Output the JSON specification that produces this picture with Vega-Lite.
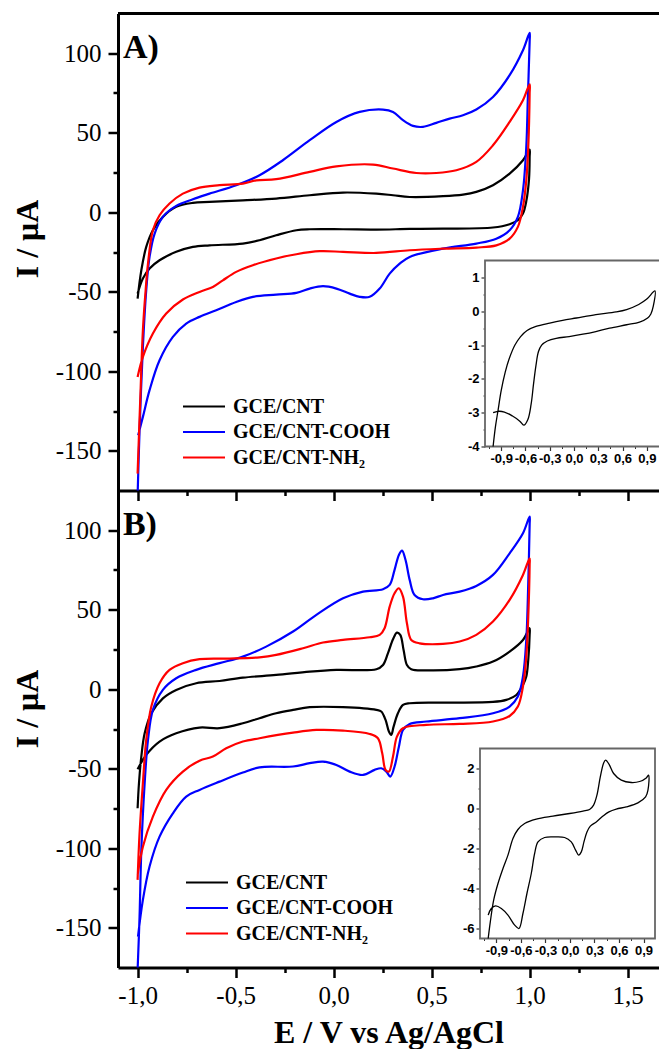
{
"$schema": "https://vega.github.io/schema/vega-lite/v6.json",
"padding": {"left": 11, "top": 11.5, "right": 0, "bottom": 0},
"autosize": {"type": "pad"},
"spacing": 0,
"bounds": "flush",
"config": {
 "view": {"stroke": null},
 "axis": {"grid": false, "domainColor": "black", "tickColor": "black", "labelColor": "black", "titleColor": "black"}
},
"datasets": {
"A": [
{"s":"GCE/CNT","E":-1.0,"I":-54.3,"o":0},{"s":"GCE/CNT","E":-0.981,"I":-36.5,"o":1},{"s":"GCE/CNT","E":-0.956,"I":-21.8,"o":2},{"s":"GCE/CNT","E":-0.922,"I":-11.3,"o":3},{"s":"GCE/CNT","E":-0.871,"I":-2.9,"o":4},{"s":"GCE/CNT","E":-0.803,"I":3.4,"o":5},{"s":"GCE/CNT","E":-0.718,"I":5.9,"o":6},{"s":"GCE/CNT","E":-0.633,"I":6.5,"o":7},{"s":"GCE/CNT","E":-0.463,"I":7.5,"o":8},{"s":"GCE/CNT","E":-0.293,"I":8.6,"o":9},{"s":"GCE/CNT","E":-0.122,"I":10.7,"o":10},{"s":"GCE/CNT","E":0.048,"I":12.4,"o":11},{"s":"GCE/CNT","E":0.218,"I":11.7,"o":12},{"s":"GCE/CNT","E":0.303,"I":10.7,"o":13},{"s":"GCE/CNT","E":0.388,"I":9.6,"o":14},{"s":"GCE/CNT","E":0.558,"I":10.1,"o":15},{"s":"GCE/CNT","E":0.66,"I":11.1,"o":16},{"s":"GCE/CNT","E":0.728,"I":12.8,"o":17},{"s":"GCE/CNT","E":0.813,"I":17.0,"o":18},{"s":"GCE/CNT","E":0.898,"I":24.3,"o":19},{"s":"GCE/CNT","E":0.966,"I":32.7,"o":20},{"s":"GCE/CNT","E":1.0,"I":39.4,"o":21},
{"s":"GCE/CNT","E":1.0,"I":34.8,"o":22},{"s":"GCE/CNT","E":0.997,"I":21,"o":23},{"s":"GCE/CNT","E":0.983,"I":7,"o":24},{"s":"GCE/CNT","E":0.966,"I":-0.8,"o":25},{"s":"GCE/CNT","E":0.94,"I":-5.0,"o":26},{"s":"GCE/CNT","E":0.898,"I":-7.5,"o":27},{"s":"GCE/CNT","E":0.813,"I":-9.6,"o":28},{"s":"GCE/CNT","E":0.558,"I":-10.3,"o":29},{"s":"GCE/CNT","E":0.388,"I":-10.5,"o":30},{"s":"GCE/CNT","E":0.218,"I":-10.9,"o":31},{"s":"GCE/CNT","E":0.048,"I":-10.7,"o":32},{"s":"GCE/CNT","E":-0.122,"I":-10.7,"o":33},{"s":"GCE/CNT","E":-0.19,"I":-11.3,"o":34},{"s":"GCE/CNT","E":-0.293,"I":-14.5,"o":35},{"s":"GCE/CNT","E":-0.378,"I":-17.6,"o":36},{"s":"GCE/CNT","E":-0.463,"I":-19.7,"o":37},{"s":"GCE/CNT","E":-0.633,"I":-20.8,"o":38},{"s":"GCE/CNT","E":-0.718,"I":-21.8,"o":39},{"s":"GCE/CNT","E":-0.803,"I":-24.9,"o":40},{"s":"GCE/CNT","E":-0.888,"I":-30.2,"o":41},{"s":"GCE/CNT","E":-0.939,"I":-35.4,"o":42},{"s":"GCE/CNT","E":-0.973,"I":-41.7,"o":43},{"s":"GCE/CNT","E":-1.0,"I":-51.2,"o":44},
{"s":"GCE/CNT-COOH","E":-1.0,"I":-178,"o":0},{"s":"GCE/CNT-COOH","E":-0.99,"I":-137.1,"o":1},{"s":"GCE/CNT-COOH","E":-0.973,"I":-84.7,"o":2},{"s":"GCE/CNT-COOH","E":-0.956,"I":-49.1,"o":3},{"s":"GCE/CNT-COOH","E":-0.939,"I":-28.1,"o":4},{"s":"GCE/CNT-COOH","E":-0.913,"I":-13.4,"o":5},{"s":"GCE/CNT-COOH","E":-0.871,"I":-2.9,"o":6},{"s":"GCE/CNT-COOH","E":-0.803,"I":4.0,"o":7},{"s":"GCE/CNT-COOH","E":-0.718,"I":8.2,"o":8},{"s":"GCE/CNT-COOH","E":-0.633,"I":11.7,"o":9},{"s":"GCE/CNT-COOH","E":-0.497,"I":17.0,"o":10},{"s":"GCE/CNT-COOH","E":-0.378,"I":23.3,"o":11},{"s":"GCE/CNT-COOH","E":-0.259,"I":32.7,"o":12},{"s":"GCE/CNT-COOH","E":-0.122,"I":45.3,"o":13},{"s":"GCE/CNT-COOH","E":0.014,"I":56.8,"o":14},{"s":"GCE/CNT-COOH","E":0.133,"I":63.1,"o":15},{"s":"GCE/CNT-COOH","E":0.252,"I":64.6,"o":16},{"s":"GCE/CNT-COOH","E":0.303,"I":63.1,"o":17},{"s":"GCE/CNT-COOH","E":0.354,"I":57.9,"o":18},{"s":"GCE/CNT-COOH","E":0.405,"I":54.3,"o":19},{"s":"GCE/CNT-COOH","E":0.456,"I":53.7,"o":20},{"s":"GCE/CNT-COOH","E":0.524,"I":56.2,"o":21},{"s":"GCE/CNT-COOH","E":0.592,"I":58.9,"o":22},{"s":"GCE/CNT-COOH","E":0.66,"I":61.0,"o":23},{"s":"GCE/CNT-COOH","E":0.728,"I":64.6,"o":24},{"s":"GCE/CNT-COOH","E":0.813,"I":72.5,"o":25},{"s":"GCE/CNT-COOH","E":0.898,"I":86.2,"o":26},{"s":"GCE/CNT-COOH","E":0.966,"I":101.9,"o":27},{"s":"GCE/CNT-COOH","E":1.0,"I":112.8,"o":28},
{"s":"GCE/CNT-COOH","E":1.0,"I":107.1,"o":29},{"s":"GCE/CNT-COOH","E":0.991,"I":72.5,"o":30},{"s":"GCE/CNT-COOH","E":0.983,"I":41.1,"o":31},{"s":"GCE/CNT-COOH","E":0.966,"I":13.8,"o":32},{"s":"GCE/CNT-COOH","E":0.94,"I":-2.9,"o":33},{"s":"GCE/CNT-COOH","E":0.898,"I":-11.3,"o":34},{"s":"GCE/CNT-COOH","E":0.83,"I":-16.6,"o":35},{"s":"GCE/CNT-COOH","E":0.728,"I":-19.7,"o":36},{"s":"GCE/CNT-COOH","E":0.558,"I":-22.9,"o":37},{"s":"GCE/CNT-COOH","E":0.388,"I":-28.1,"o":38},{"s":"GCE/CNT-COOH","E":0.337,"I":-32.3,"o":39},{"s":"GCE/CNT-COOH","E":0.286,"I":-38.6,"o":40},{"s":"GCE/CNT-COOH","E":0.235,"I":-48.0,"o":41},{"s":"GCE/CNT-COOH","E":0.184,"I":-53.2,"o":42},{"s":"GCE/CNT-COOH","E":0.133,"I":-53.2,"o":43},{"s":"GCE/CNT-COOH","E":0.082,"I":-51.2,"o":44},{"s":"GCE/CNT-COOH","E":0.014,"I":-48.0,"o":45},{"s":"GCE/CNT-COOH","E":-0.054,"I":-46.5,"o":46},{"s":"GCE/CNT-COOH","E":-0.122,"I":-48.0,"o":47},{"s":"GCE/CNT-COOH","E":-0.19,"I":-50.7,"o":48},{"s":"GCE/CNT-COOH","E":-0.293,"I":-51.8,"o":49},{"s":"GCE/CNT-COOH","E":-0.412,"I":-53.2,"o":50},{"s":"GCE/CNT-COOH","E":-0.497,"I":-56.4,"o":51},{"s":"GCE/CNT-COOH","E":-0.599,"I":-61.6,"o":52},{"s":"GCE/CNT-COOH","E":-0.684,"I":-65.8,"o":53},{"s":"GCE/CNT-COOH","E":-0.752,"I":-70.0,"o":54},{"s":"GCE/CNT-COOH","E":-0.82,"I":-78.4,"o":55},{"s":"GCE/CNT-COOH","E":-0.888,"I":-93.1,"o":56},{"s":"GCE/CNT-COOH","E":-0.939,"I":-111.9,"o":57},{"s":"GCE/CNT-COOH","E":-0.973,"I":-128.7,"o":58},{"s":"GCE/CNT-COOH","E":-0.997,"I":-140.3,"o":59},
{"s":"GCE/CNT-NH₂","E":-1.0,"I":-164.4,"o":0},{"s":"GCE/CNT-NH₂","E":-0.986,"I":-116.1,"o":1},{"s":"GCE/CNT-NH₂","E":-0.973,"I":-74.2,"o":2},{"s":"GCE/CNT-NH₂","E":-0.959,"I":-49.1,"o":3},{"s":"GCE/CNT-NH₂","E":-0.947,"I":-32.3,"o":4},{"s":"GCE/CNT-NH₂","E":-0.922,"I":-11.3,"o":5},{"s":"GCE/CNT-NH₂","E":-0.888,"I":-1.9,"o":6},{"s":"GCE/CNT-NH₂","E":-0.837,"I":5.5,"o":7},{"s":"GCE/CNT-NH₂","E":-0.769,"I":11.7,"o":8},{"s":"GCE/CNT-NH₂","E":-0.684,"I":15.5,"o":9},{"s":"GCE/CNT-NH₂","E":-0.582,"I":17.0,"o":10},{"s":"GCE/CNT-NH₂","E":-0.463,"I":18.0,"o":11},{"s":"GCE/CNT-NH₂","E":-0.395,"I":20.1,"o":12},{"s":"GCE/CNT-NH₂","E":-0.293,"I":20.8,"o":13},{"s":"GCE/CNT-NH₂","E":-0.122,"I":25.4,"o":14},{"s":"GCE/CNT-NH₂","E":0.014,"I":28.9,"o":15},{"s":"GCE/CNT-NH₂","E":0.201,"I":30.0,"o":16},{"s":"GCE/CNT-NH₂","E":0.303,"I":27.5,"o":17},{"s":"GCE/CNT-NH₂","E":0.422,"I":24.7,"o":18},{"s":"GCE/CNT-NH₂","E":0.524,"I":24.7,"o":19},{"s":"GCE/CNT-NH₂","E":0.626,"I":26.4,"o":20},{"s":"GCE/CNT-NH₂","E":0.728,"I":31.7,"o":21},{"s":"GCE/CNT-NH₂","E":0.813,"I":42.1,"o":22},{"s":"GCE/CNT-NH₂","E":0.898,"I":56.8,"o":23},{"s":"GCE/CNT-NH₂","E":0.966,"I":70.4,"o":24},{"s":"GCE/CNT-NH₂","E":1.0,"I":80.5,"o":25},
{"s":"GCE/CNT-NH₂","E":1.0,"I":74.6,"o":26},{"s":"GCE/CNT-NH₂","E":0.993,"I":41.1,"o":27},{"s":"GCE/CNT-NH₂","E":0.983,"I":20.1,"o":28},{"s":"GCE/CNT-NH₂","E":0.966,"I":3.4,"o":29},{"s":"GCE/CNT-NH₂","E":0.94,"I":-9.2,"o":30},{"s":"GCE/CNT-NH₂","E":0.898,"I":-16.6,"o":31},{"s":"GCE/CNT-NH₂","E":0.83,"I":-20.8,"o":32},{"s":"GCE/CNT-NH₂","E":0.728,"I":-22.2,"o":33},{"s":"GCE/CNT-NH₂","E":0.558,"I":-22.9,"o":34},{"s":"GCE/CNT-NH₂","E":0.388,"I":-23.9,"o":35},{"s":"GCE/CNT-NH₂","E":0.218,"I":-25.6,"o":36},{"s":"GCE/CNT-NH₂","E":0.048,"I":-24.9,"o":37},{"s":"GCE/CNT-NH₂","E":-0.071,"I":-24.5,"o":38},{"s":"GCE/CNT-NH₂","E":-0.19,"I":-26.4,"o":39},{"s":"GCE/CNT-NH₂","E":-0.293,"I":-29.1,"o":40},{"s":"GCE/CNT-NH₂","E":-0.412,"I":-33.3,"o":41},{"s":"GCE/CNT-NH₂","E":-0.497,"I":-37.5,"o":42},{"s":"GCE/CNT-NH₂","E":-0.565,"I":-42.8,"o":43},{"s":"GCE/CNT-NH₂","E":-0.616,"I":-47.0,"o":44},{"s":"GCE/CNT-NH₂","E":-0.684,"I":-50.1,"o":45},{"s":"GCE/CNT-NH₂","E":-0.769,"I":-54.9,"o":46},{"s":"GCE/CNT-NH₂","E":-0.854,"I":-63.7,"o":47},{"s":"GCE/CNT-NH₂","E":-0.922,"I":-76.3,"o":48},{"s":"GCE/CNT-NH₂","E":-0.973,"I":-91.0,"o":49},{"s":"GCE/CNT-NH₂","E":-1.0,"I":-103.6,"o":50}
],
"B": [
{"s":"GCE/CNT","E":-1.0,"I":-74.8,"o":0},{"s":"GCE/CNT","E":-0.993,"I":-59.1,"o":1},{"s":"GCE/CNT","E":-0.981,"I":-42.3,"o":2},{"s":"GCE/CNT","E":-0.964,"I":-27.7,"o":3},{"s":"GCE/CNT","E":-0.93,"I":-15.1,"o":4},{"s":"GCE/CNT","E":-0.871,"I":-5.7,"o":5},{"s":"GCE/CNT","E":-0.803,"I":-0.4,"o":6},{"s":"GCE/CNT","E":-0.701,"I":3.8,"o":7},{"s":"GCE/CNT","E":-0.582,"I":5.2,"o":8},{"s":"GCE/CNT","E":-0.463,"I":7.3,"o":9},{"s":"GCE/CNT","E":-0.293,"I":9.0,"o":10},{"s":"GCE/CNT","E":-0.122,"I":11.1,"o":11},{"s":"GCE/CNT","E":0.014,"I":12.2,"o":12},{"s":"GCE/CNT","E":0.218,"I":12.6,"o":13},{"s":"GCE/CNT","E":0.252,"I":15.3,"o":14},{"s":"GCE/CNT","E":0.277,"I":22.6,"o":15},{"s":"GCE/CNT","E":0.303,"I":31.4,"o":16},{"s":"GCE/CNT","E":0.323,"I":35.6,"o":17},{"s":"GCE/CNT","E":0.34,"I":34.2,"o":18},{"s":"GCE/CNT","E":0.357,"I":24.7,"o":19},{"s":"GCE/CNT","E":0.374,"I":15.3,"o":20},{"s":"GCE/CNT","E":0.396,"I":12.6,"o":21},{"s":"GCE/CNT","E":0.473,"I":11.9,"o":22},{"s":"GCE/CNT","E":0.643,"I":12.6,"o":23},{"s":"GCE/CNT","E":0.728,"I":14.3,"o":24},{"s":"GCE/CNT","E":0.813,"I":17.4,"o":25},{"s":"GCE/CNT","E":0.898,"I":23.7,"o":26},{"s":"GCE/CNT","E":0.966,"I":31.0,"o":27},{"s":"GCE/CNT","E":1.0,"I":38.4,"o":28},
{"s":"GCE/CNT","E":1.0,"I":34.2,"o":29},{"s":"GCE/CNT","E":0.993,"I":18.4,"o":30},{"s":"GCE/CNT","E":0.983,"I":8.0,"o":31},{"s":"GCE/CNT","E":0.966,"I":2.7,"o":32},{"s":"GCE/CNT","E":0.932,"I":-3.6,"o":33},{"s":"GCE/CNT","E":0.881,"I":-6.7,"o":34},{"s":"GCE/CNT","E":0.813,"I":-8.0,"o":35},{"s":"GCE/CNT","E":0.558,"I":-8.4,"o":36},{"s":"GCE/CNT","E":0.388,"I":-8.8,"o":37},{"s":"GCE/CNT","E":0.354,"I":-9.9,"o":38},{"s":"GCE/CNT","E":0.328,"I":-15.1,"o":39},{"s":"GCE/CNT","E":0.306,"I":-23.5,"o":40},{"s":"GCE/CNT","E":0.294,"I":-28.7,"o":41},{"s":"GCE/CNT","E":0.282,"I":-26.6,"o":42},{"s":"GCE/CNT","E":0.265,"I":-19.3,"o":43},{"s":"GCE/CNT","E":0.243,"I":-14.0,"o":44},{"s":"GCE/CNT","E":0.218,"I":-13.0,"o":45},{"s":"GCE/CNT","E":0.048,"I":-11.3,"o":46},{"s":"GCE/CNT","E":-0.122,"I":-11.3,"o":47},{"s":"GCE/CNT","E":-0.207,"I":-13.0,"o":48},{"s":"GCE/CNT","E":-0.293,"I":-15.1,"o":49},{"s":"GCE/CNT","E":-0.378,"I":-18.2,"o":50},{"s":"GCE/CNT","E":-0.463,"I":-21.4,"o":51},{"s":"GCE/CNT","E":-0.582,"I":-24.5,"o":52},{"s":"GCE/CNT","E":-0.684,"I":-24.1,"o":53},{"s":"GCE/CNT","E":-0.803,"I":-27.7,"o":54},{"s":"GCE/CNT","E":-0.888,"I":-32.9,"o":55},{"s":"GCE/CNT","E":-0.956,"I":-41.3,"o":56},{"s":"GCE/CNT","E":-1.0,"I":-50.3,"o":57},
{"s":"GCE/CNT-COOH","E":-1.0,"I":-176.5,"o":0},{"s":"GCE/CNT-COOH","E":-0.99,"I":-143.0,"o":1},{"s":"GCE/CNT-COOH","E":-0.981,"I":-101.0,"o":2},{"s":"GCE/CNT-COOH","E":-0.964,"I":-59.1,"o":3},{"s":"GCE/CNT-COOH","E":-0.947,"I":-31.9,"o":4},{"s":"GCE/CNT-COOH","E":-0.922,"I":-13.0,"o":5},{"s":"GCE/CNT-COOH","E":-0.871,"I":-0.4,"o":6},{"s":"GCE/CNT-COOH","E":-0.803,"I":6.9,"o":7},{"s":"GCE/CNT-COOH","E":-0.701,"I":12.2,"o":8},{"s":"GCE/CNT-COOH","E":-0.582,"I":16.4,"o":9},{"s":"GCE/CNT-COOH","E":-0.463,"I":20.5,"o":10},{"s":"GCE/CNT-COOH","E":-0.344,"I":26.8,"o":11},{"s":"GCE/CNT-COOH","E":-0.207,"I":36.3,"o":12},{"s":"GCE/CNT-COOH","E":-0.088,"I":46.8,"o":13},{"s":"GCE/CNT-COOH","E":0.048,"I":57.2,"o":14},{"s":"GCE/CNT-COOH","E":0.15,"I":61.4,"o":15},{"s":"GCE/CNT-COOH","E":0.252,"I":62.9,"o":16},{"s":"GCE/CNT-COOH","E":0.286,"I":65.6,"o":17},{"s":"GCE/CNT-COOH","E":0.311,"I":75.1,"o":18},{"s":"GCE/CNT-COOH","E":0.333,"I":84.5,"o":19},{"s":"GCE/CNT-COOH","E":0.349,"I":87.2,"o":20},{"s":"GCE/CNT-COOH","E":0.367,"I":81.3,"o":21},{"s":"GCE/CNT-COOH","E":0.388,"I":68.8,"o":22},{"s":"GCE/CNT-COOH","E":0.413,"I":59.3,"o":23},{"s":"GCE/CNT-COOH","E":0.456,"I":56.6,"o":24},{"s":"GCE/CNT-COOH","E":0.507,"I":57.2,"o":25},{"s":"GCE/CNT-COOH","E":0.558,"I":59.3,"o":26},{"s":"GCE/CNT-COOH","E":0.643,"I":61.4,"o":27},{"s":"GCE/CNT-COOH","E":0.728,"I":65.0,"o":28},{"s":"GCE/CNT-COOH","E":0.813,"I":71.9,"o":29},{"s":"GCE/CNT-COOH","E":0.898,"I":85.5,"o":30},{"s":"GCE/CNT-COOH","E":0.966,"I":98.1,"o":31},{"s":"GCE/CNT-COOH","E":1.0,"I":108.6,"o":32},
{"s":"GCE/CNT-COOH","E":1.0,"I":103.4,"o":33},{"s":"GCE/CNT-COOH","E":0.993,"I":66.7,"o":34},{"s":"GCE/CNT-COOH","E":0.983,"I":31.0,"o":35},{"s":"GCE/CNT-COOH","E":0.966,"I":8.0,"o":36},{"s":"GCE/CNT-COOH","E":0.94,"I":-4.6,"o":37},{"s":"GCE/CNT-COOH","E":0.898,"I":-10.9,"o":38},{"s":"GCE/CNT-COOH","E":0.813,"I":-15.1,"o":39},{"s":"GCE/CNT-COOH","E":0.643,"I":-18.2,"o":40},{"s":"GCE/CNT-COOH","E":0.473,"I":-20.3,"o":41},{"s":"GCE/CNT-COOH","E":0.388,"I":-21.8,"o":42},{"s":"GCE/CNT-COOH","E":0.354,"I":-25.6,"o":43},{"s":"GCE/CNT-COOH","E":0.333,"I":-36.1,"o":44},{"s":"GCE/CNT-COOH","E":0.311,"I":-48.6,"o":45},{"s":"GCE/CNT-COOH","E":0.289,"I":-54.9,"o":46},{"s":"GCE/CNT-COOH","E":0.269,"I":-51.8,"o":47},{"s":"GCE/CNT-COOH","E":0.243,"I":-49.7,"o":48},{"s":"GCE/CNT-COOH","E":0.209,"I":-50.7,"o":49},{"s":"GCE/CNT-COOH","E":0.15,"I":-53.9,"o":50},{"s":"GCE/CNT-COOH","E":0.082,"I":-51.8,"o":51},{"s":"GCE/CNT-COOH","E":0.014,"I":-47.6,"o":52},{"s":"GCE/CNT-COOH","E":-0.054,"I":-45.5,"o":53},{"s":"GCE/CNT-COOH","E":-0.122,"I":-46.5,"o":54},{"s":"GCE/CNT-COOH","E":-0.207,"I":-48.6,"o":55},{"s":"GCE/CNT-COOH","E":-0.378,"I":-49.1,"o":56},{"s":"GCE/CNT-COOH","E":-0.463,"I":-52.4,"o":57},{"s":"GCE/CNT-COOH","E":-0.582,"I":-58.1,"o":58},{"s":"GCE/CNT-COOH","E":-0.684,"I":-63.3,"o":59},{"s":"GCE/CNT-COOH","E":-0.752,"I":-67.5,"o":60},{"s":"GCE/CNT-COOH","E":-0.82,"I":-78.0,"o":61},{"s":"GCE/CNT-COOH","E":-0.888,"I":-92.7,"o":62},{"s":"GCE/CNT-COOH","E":-0.939,"I":-111.5,"o":63},{"s":"GCE/CNT-COOH","E":-0.973,"I":-132.5,"o":64},{"s":"GCE/CNT-COOH","E":-0.998,"I":-155.6,"o":65},
{"s":"GCE/CNT-NH₂","E":-1.0,"I":-119.9,"o":0},{"s":"GCE/CNT-NH₂","E":-0.99,"I":-90.6,"o":1},{"s":"GCE/CNT-NH₂","E":-0.973,"I":-59.1,"o":2},{"s":"GCE/CNT-NH₂","E":-0.956,"I":-31.9,"o":3},{"s":"GCE/CNT-NH₂","E":-0.93,"I":-10.9,"o":4},{"s":"GCE/CNT-NH₂","E":-0.888,"I":3.8,"o":5},{"s":"GCE/CNT-NH₂","E":-0.837,"I":12.2,"o":6},{"s":"GCE/CNT-NH₂","E":-0.769,"I":16.4,"o":7},{"s":"GCE/CNT-NH₂","E":-0.684,"I":18.9,"o":8},{"s":"GCE/CNT-NH₂","E":-0.548,"I":19.3,"o":9},{"s":"GCE/CNT-NH₂","E":-0.378,"I":20.1,"o":10},{"s":"GCE/CNT-NH₂","E":-0.293,"I":21.6,"o":11},{"s":"GCE/CNT-NH₂","E":-0.156,"I":25.8,"o":12},{"s":"GCE/CNT-NH₂","E":-0.054,"I":29.4,"o":13},{"s":"GCE/CNT-NH₂","E":0.048,"I":31.0,"o":14},{"s":"GCE/CNT-NH₂","E":0.184,"I":32.7,"o":15},{"s":"GCE/CNT-NH₂","E":0.235,"I":34.2,"o":16},{"s":"GCE/CNT-NH₂","E":0.26,"I":38.4,"o":17},{"s":"GCE/CNT-NH₂","E":0.286,"I":52.0,"o":18},{"s":"GCE/CNT-NH₂","E":0.311,"I":60.4,"o":19},{"s":"GCE/CNT-NH₂","E":0.333,"I":63.5,"o":20},{"s":"GCE/CNT-NH₂","E":0.354,"I":58.3,"o":21},{"s":"GCE/CNT-NH₂","E":0.374,"I":41.5,"o":22},{"s":"GCE/CNT-NH₂","E":0.396,"I":31.0,"o":23},{"s":"GCE/CNT-NH₂","E":0.439,"I":28.9,"o":24},{"s":"GCE/CNT-NH₂","E":0.558,"I":28.5,"o":25},{"s":"GCE/CNT-NH₂","E":0.643,"I":30.0,"o":26},{"s":"GCE/CNT-NH₂","E":0.728,"I":34.2,"o":27},{"s":"GCE/CNT-NH₂","E":0.813,"I":42.6,"o":28},{"s":"GCE/CNT-NH₂","E":0.898,"I":56.2,"o":29},{"s":"GCE/CNT-NH₂","E":0.966,"I":71.9,"o":30},{"s":"GCE/CNT-NH₂","E":1.0,"I":82.4,"o":31},
{"s":"GCE/CNT-NH₂","E":1.0,"I":78.2,"o":32},{"s":"GCE/CNT-NH₂","E":0.993,"I":45.7,"o":33},{"s":"GCE/CNT-NH₂","E":0.983,"I":20.5,"o":34},{"s":"GCE/CNT-NH₂","E":0.966,"I":1.7,"o":35},{"s":"GCE/CNT-NH₂","E":0.94,"I":-10.9,"o":36},{"s":"GCE/CNT-NH₂","E":0.898,"I":-16.8,"o":37},{"s":"GCE/CNT-NH₂","E":0.813,"I":-20.3,"o":38},{"s":"GCE/CNT-NH₂","E":0.643,"I":-21.8,"o":39},{"s":"GCE/CNT-NH₂","E":0.473,"I":-22.4,"o":40},{"s":"GCE/CNT-NH₂","E":0.354,"I":-24.5,"o":41},{"s":"GCE/CNT-NH₂","E":0.323,"I":-29.8,"o":42},{"s":"GCE/CNT-NH₂","E":0.303,"I":-42.3,"o":43},{"s":"GCE/CNT-NH₂","E":0.282,"I":-51.8,"o":44},{"s":"GCE/CNT-NH₂","E":0.265,"I":-50.7,"o":45},{"s":"GCE/CNT-NH₂","E":0.248,"I":-40.3,"o":46},{"s":"GCE/CNT-NH₂","E":0.226,"I":-30.8,"o":47},{"s":"GCE/CNT-NH₂","E":0.184,"I":-28.1,"o":48},{"s":"GCE/CNT-NH₂","E":0.048,"I":-26.0,"o":49},{"s":"GCE/CNT-NH₂","E":-0.088,"I":-25.6,"o":50},{"s":"GCE/CNT-NH₂","E":-0.207,"I":-27.3,"o":51},{"s":"GCE/CNT-NH₂","E":-0.378,"I":-30.8,"o":52},{"s":"GCE/CNT-NH₂","E":-0.463,"I":-32.9,"o":53},{"s":"GCE/CNT-NH₂","E":-0.548,"I":-37.1,"o":54},{"s":"GCE/CNT-NH₂","E":-0.616,"I":-42.3,"o":55},{"s":"GCE/CNT-NH₂","E":-0.684,"I":-44.9,"o":56},{"s":"GCE/CNT-NH₂","E":-0.769,"I":-51.8,"o":57},{"s":"GCE/CNT-NH₂","E":-0.854,"I":-63.3,"o":58},{"s":"GCE/CNT-NH₂","E":-0.922,"I":-80.1,"o":59},{"s":"GCE/CNT-NH₂","E":-0.973,"I":-99.0,"o":60},{"s":"GCE/CNT-NH₂","E":-1.0,"I":-116.8,"o":61}
],
"iA": [
{"E":-1.0,"I":-4.0,"o":0},{"E":-0.97,"I":-3.4,"o":1},{"E":-0.94,"I":-2.95,"o":2},{"E":-0.9,"I":-2.35,"o":3},{"E":-0.85,"I":-1.8,"o":4},{"E":-0.8,"I":-1.4,"o":5},{"E":-0.73,"I":-1.0,"o":6},{"E":-0.66,"I":-0.75,"o":7},{"E":-0.58,"I":-0.57,"o":8},{"E":-0.47,"I":-0.45,"o":9},{"E":-0.3,"I":-0.35,"o":10},{"E":-0.14,"I":-0.27,"o":11},{"E":0.03,"I":-0.2,"o":12},{"E":0.27,"I":-0.1,"o":13},{"E":0.52,"I":-0.02,"o":14},{"E":0.65,"I":0.05,"o":15},{"E":0.8,"I":0.2,"o":16},{"E":0.9,"I":0.36,"o":17},{"E":1.0,"I":0.6,"o":18},
{"E":0.98,"I":0.15,"o":19},{"E":0.95,"I":-0.08,"o":20},{"E":0.91,"I":-0.2,"o":21},{"E":0.81,"I":-0.32,"o":22},{"E":0.65,"I":-0.4,"o":23},{"E":0.44,"I":-0.5,"o":24},{"E":0.27,"I":-0.6,"o":25},{"E":0.11,"I":-0.68,"o":26},{"E":-0.06,"I":-0.75,"o":27},{"E":-0.22,"I":-0.8,"o":28},{"E":-0.33,"I":-0.88,"o":29},{"E":-0.4,"I":-1.0,"o":30},{"E":-0.44,"I":-1.2,"o":31},{"E":-0.47,"I":-1.6,"o":32},{"E":-0.5,"I":-2.15,"o":33},{"E":-0.53,"I":-2.75,"o":34},{"E":-0.57,"I":-3.2,"o":35},{"E":-0.62,"I":-3.37,"o":36},{"E":-0.67,"I":-3.25,"o":37},{"E":-0.76,"I":-3.1,"o":38},{"E":-0.86,"I":-2.98,"o":39},{"E":-0.94,"I":-2.96,"o":40},{"E":-1.0,"I":-3.0,"o":41}
],
"iB": [
{"E":-1.0,"I":-6.5,"o":0},{"E":-0.974,"I":-5.67,"o":1},{"E":-0.933,"I":-4.58,"o":2},{"E":-0.88,"I":-3.75,"o":3},{"E":-0.819,"I":-3.0,"o":4},{"E":-0.758,"I":-2.33,"o":5},{"E":-0.697,"I":-1.5,"o":6},{"E":-0.636,"I":-1.05,"o":7},{"E":-0.554,"I":-0.75,"o":8},{"E":-0.412,"I":-0.53,"o":9},{"E":-0.208,"I":-0.38,"o":10},{"E":-0.004,"I":-0.25,"o":11},{"E":0.159,"I":-0.13,"o":12},{"E":0.24,"I":-0.05,"o":13},{"E":0.289,"I":0.17,"o":14},{"E":0.33,"I":0.67,"o":15},{"E":0.371,"I":1.58,"o":16},{"E":0.412,"I":2.28,"o":17},{"E":0.436,"I":2.42,"o":18},{"E":0.477,"I":2.22,"o":19},{"E":0.534,"I":1.75,"o":20},{"E":0.628,"I":1.42,"o":21},{"E":0.75,"I":1.3,"o":22},{"E":0.852,"I":1.35,"o":23},{"E":0.933,"I":1.53,"o":24},{"E":0.962,"I":1.67,"o":25},
{"E":0.954,"I":0.92,"o":26},{"E":0.925,"I":0.58,"o":27},{"E":0.831,"I":0.28,"o":28},{"E":0.689,"I":0.08,"o":29},{"E":0.566,"I":-0.03,"o":30},{"E":0.477,"I":-0.17,"o":31},{"E":0.403,"I":-0.38,"o":32},{"E":0.322,"I":-0.67,"o":33},{"E":0.249,"I":-0.88,"o":34},{"E":0.208,"I":-1.17,"o":35},{"E":0.171,"I":-1.67,"o":36},{"E":0.139,"I":-2.17,"o":37},{"E":0.106,"I":-2.33,"o":38},{"E":0.069,"I":-2.08,"o":39},{"E":0.016,"I":-1.67,"o":40},{"E":-0.065,"I":-1.45,"o":41},{"E":-0.187,"I":-1.42,"o":42},{"E":-0.31,"I":-1.45,"o":43},{"E":-0.391,"I":-1.67,"o":44},{"E":-0.432,"I":-2.25,"o":45},{"E":-0.473,"I":-3.25,"o":46},{"E":-0.526,"I":-4.25,"o":47},{"E":-0.575,"I":-5.25,"o":48},{"E":-0.623,"I":-6.0,"o":49},{"E":-0.676,"I":-5.83,"o":50},{"E":-0.758,"I":-5.33,"o":51},{"E":-0.839,"I":-5.0,"o":52},{"E":-0.909,"I":-4.87,"o":53},{"E":-0.962,"I":-5.0,"o":54},{"E":-1.0,"I":-5.33,"o":55}
]
},
"resolve": {"legend": {"color": "independent"}},
"vconcat": [
{
 "width": 541, "height": 477,
 "layer": [
  {
   "layer": [
    {
     "data": {"name": "A"},
     "mark": {"type": "line", "strokeWidth": 2.2, "interpolate": "catmull-rom", "clip": true},
     "encoding": {
      "x": {"field": "E", "type": "quantitative", "scale": {"domain": [-1.1, 1.66], "nice": false, "zero": false},
            "axis": {"orient": "bottom", "values": [-1, -0.5, 0, 0.5, 1, 1.5], "tickSize": 10, "tickWidth": 2.5, "domainWidth": 3, "labels": false, "title": null}},
      "y": {"field": "I", "type": "quantitative", "scale": {"domain": [-175, 125], "nice": false, "zero": false},
            "axis": {"orient": "left", "values": [-150, -100, -50, 0, 50, 100], "tickSize": 10, "tickWidth": 2.5, "domainWidth": 3, "labelFont": "Liberation Serif", "labelFontSize": 25, "labelPadding": 7, "labelOverlap": false, "labelFlush": false, "labelExpr": "datum.value < 0 ? '-' + abs(datum.value) : '' + datum.value", "title": "I / μA", "titleFont": "Liberation Serif", "titleFontSize": 32, "titleFontWeight": "bold", "titleAngle": 270, "titleBaseline": "alphabetic", "titleX": -81, "titleY": 225}},
      "color": {"field": "s", "type": "nominal", "scale": {"domain": ["GCE/CNT", "GCE/CNT-COOH", "GCE/CNT-NH₂"], "range": ["#000000", "#0000ff", "#ff0000"]},
            "legend": {"orient": "none", "legendX": 76, "legendY": 383, "title": null, "symbolType": "M-3,0H3", "symbolSize": 196, "symbolStrokeWidth": 2.2, "labelFont": "Liberation Serif", "labelFontWeight": "bold", "labelFontSize": 20, "labelColor": "black", "labelOffset": 19, "rowPadding": 5.5, "padding": 0, "labelLimit": 400}},
      "order": {"field": "o", "type": "quantitative"}
     }
    },
    {
     "data": {"name": "A"},
     "mark": {"type": "point", "opacity": 0, "size": 1},
     "encoding": {
      "x": {"field": "E", "type": "quantitative", "axis": {"orient": "bottom", "values": [-0.75, -0.25, 0.25, 0.75, 1.25], "tickSize": 5, "tickWidth": 2.5, "domain": false, "labels": false, "title": null}},
      "y": {"field": "I", "type": "quantitative", "axis": {"orient": "left", "values": [-125, -75, -25, 25, 75], "tickSize": 5, "tickWidth": 2.5, "domain": false, "labels": false, "title": null}}
     }
    },
    {
     "data": {"values": [{}]},
     "mark": {"type": "rule", "strokeWidth": 3, "color": "black"},
     "encoding": {"y": {"datum": 125, "type": "quantitative", "axis": null}}
    },
    {
     "data": {"values": [{}]},
     "mark": {"type": "text", "font": "Liberation Serif", "fontSize": 34, "fontWeight": "bold", "align": "left", "baseline": "alphabetic", "color": "black"},
     "encoding": {"x": {"datum": -1.075, "type": "quantitative", "axis": null}, "y": {"datum": 96.7, "type": "quantitative", "axis": null}, "text": {"value": "A)"}}
    }
   ],
   "resolve": {"axis": {"x": "independent", "y": "independent"}}
  },
  {
   "layer": [
    {
     "data": {"values": [{}]},
     "mark": {"type": "rect", "fill": "white", "stroke": "#666666", "strokeWidth": 1.8, "clip": true},
     "encoding": {"x": {"datum": -1.1, "type": "quantitative", "axis": null}, "x2": {"datum": 1.1}, "y": {"datum": -4, "type": "quantitative", "axis": null}, "y2": {"datum": 1.5}}
    },
    {
     "data": {"name": "iA"},
     "mark": {"type": "line", "color": "black", "strokeWidth": 1.3, "interpolate": "catmull-rom"},
     "encoding": {
      "x": {"field": "E", "type": "quantitative", "scale": {"domain": [-1.1, 1.1], "range": [367, 545], "nice": false, "zero": false},
            "axis": {"orient": "bottom", "offset": -44, "values": [-0.9, -0.6, -0.3, 0, 0.3, 0.6, 0.9], "tickSize": 4, "tickWidth": 1.2, "tickColor": "#333333", "domain": false, "labelFont": "Liberation Sans", "labelFontSize": 13, "labelFontWeight": "bold", "labelPadding": 2, "labelOverlap": false, "labelFlush": false, "labelExpr": "(datum.value < 0 ? '-' : '') + replace(format(abs(datum.value), '.1f'), '.', ',')", "title": null}},
      "y": {"field": "I", "type": "quantitative", "scale": {"domain": [-4, 1.5], "range": [433, 247], "nice": false, "zero": false},
            "axis": {"orient": "left", "offset": -367, "values": [-4, -3, -2, -1, 0, 1], "tickSize": 4, "tickWidth": 1.2, "tickColor": "#333333", "domain": false, "labelFont": "Liberation Sans", "labelFontSize": 13, "labelFontWeight": "bold", "labelPadding": 2, "labelOverlap": false, "labelFlush": false, "labelExpr": "datum.value < 0 ? '-' + abs(datum.value) : '' + datum.value", "title": null}},
      "order": {"field": "o", "type": "quantitative"}
     }
    },
    {
     "data": {"name": "iA"},
     "mark": {"type": "point", "opacity": 0, "size": 1},
     "encoding": {
      "x": {"field": "E", "type": "quantitative", "axis": {"orient": "bottom", "offset": -44, "values": [-1.05, -0.75, -0.45, -0.15, 0.15, 0.45, 0.75], "tickSize": 2, "tickWidth": 1, "tickColor": "#333333", "domain": false, "labels": false, "title": null}},
      "y": {"field": "I", "type": "quantitative", "axis": {"orient": "left", "offset": -367, "values": [-3.5, -2.5, -1.5, -0.5, 0.5], "tickSize": 2, "tickWidth": 1, "tickColor": "#333333", "domain": false, "labels": false, "title": null}}
     }
    }
   ],
   "resolve": {"axis": {"x": "independent", "y": "independent"}}
  }
 ],
 "resolve": {"scale": {"x": "independent", "y": "independent"}}
},
{
 "width": 541, "height": 477,
 "layer": [
  {
   "layer": [
    {
     "data": {"name": "B"},
     "mark": {"type": "line", "strokeWidth": 2.2, "interpolate": "catmull-rom", "clip": true},
     "encoding": {
      "x": {"field": "E", "type": "quantitative", "scale": {"domain": [-1.1, 1.66], "nice": false, "zero": false},
            "axis": {"orient": "bottom", "values": [-1, -0.5, 0, 0.5, 1, 1.5], "tickSize": 10, "tickWidth": 2.5, "domainWidth": 3, "labelFont": "Liberation Serif", "labelFontSize": 25, "labelPadding": 6, "labelOverlap": false, "labelFlush": false, "labelExpr": "(datum.value < 0 ? '-' : '') + replace(format(abs(datum.value), '.1f'), '.', ',')", "title": "E / V vs Ag/AgCl", "titleFont": "Liberation Serif", "titleFontSize": 32, "titleFontWeight": "bold", "titleBaseline": "alphabetic", "titleY": 75}},
      "y": {"field": "I", "type": "quantitative", "scale": {"domain": [-175, 125], "nice": false, "zero": false},
            "axis": {"orient": "left", "values": [-150, -100, -50, 0, 50, 100], "tickSize": 10, "tickWidth": 2.5, "domainWidth": 3, "labelFont": "Liberation Serif", "labelFontSize": 25, "labelPadding": 7, "labelOverlap": false, "labelFlush": false, "labelExpr": "datum.value < 0 ? '-' + abs(datum.value) : '' + datum.value", "title": "I / μA", "titleFont": "Liberation Serif", "titleFontSize": 32, "titleFontWeight": "bold", "titleAngle": 270, "titleBaseline": "alphabetic", "titleX": -81, "titleY": 218}},
      "color": {"field": "s", "type": "nominal", "scale": {"domain": ["GCE/CNT", "GCE/CNT-COOH", "GCE/CNT-NH₂"], "range": ["#000000", "#0000ff", "#ff0000"]},
            "legend": {"orient": "none", "legendX": 79, "legendY": 382, "title": null, "symbolType": "M-3,0H3", "symbolSize": 196, "symbolStrokeWidth": 2.2, "labelFont": "Liberation Serif", "labelFontWeight": "bold", "labelFontSize": 20, "labelColor": "black", "labelOffset": 19, "rowPadding": 5.5, "padding": 0, "labelLimit": 400}},
      "order": {"field": "o", "type": "quantitative"}
     }
    },
    {
     "data": {"name": "B"},
     "mark": {"type": "point", "opacity": 0, "size": 1},
     "encoding": {
      "x": {"field": "E", "type": "quantitative", "axis": {"orient": "bottom", "values": [-0.75, -0.25, 0.25, 0.75, 1.25], "tickSize": 5, "tickWidth": 2.5, "domain": false, "labels": false, "title": null}},
      "y": {"field": "I", "type": "quantitative", "axis": {"orient": "left", "values": [-125, -75, -25, 25, 75], "tickSize": 5, "tickWidth": 2.5, "domain": false, "labels": false, "title": null}}
     }
    },
    {
     "data": {"values": [{}]},
     "mark": {"type": "text", "font": "Liberation Serif", "fontSize": 34, "fontWeight": "bold", "align": "left", "baseline": "alphabetic", "color": "black"},
     "encoding": {"x": {"datum": -1.075, "type": "quantitative", "axis": null}, "y": {"datum": 96.7, "type": "quantitative", "axis": null}, "text": {"value": "B)"}}
    }
   ],
   "resolve": {"axis": {"x": "independent", "y": "independent"}}
  },
  {
   "layer": [
    {
     "data": {"values": [{}]},
     "mark": {"type": "rect", "fill": "white", "stroke": "#666666", "strokeWidth": 1.8, "clip": true},
     "encoding": {"x": {"datum": -1.1, "type": "quantitative", "axis": null}, "x2": {"datum": 1.04}, "y": {"datum": -6.5, "type": "quantitative", "axis": null}, "y2": {"datum": 3}}
    },
    {
     "data": {"name": "iB"},
     "mark": {"type": "line", "color": "black", "strokeWidth": 1.3, "interpolate": "catmull-rom"},
     "encoding": {
      "x": {"field": "E", "type": "quantitative", "scale": {"domain": [-1.1, 1.04], "range": [362, 537], "nice": false, "zero": false},
            "axis": {"orient": "bottom", "offset": -29, "values": [-0.9, -0.6, -0.3, 0, 0.3, 0.6, 0.9], "tickSize": 4, "tickWidth": 1.2, "tickColor": "#333333", "domain": false, "labelFont": "Liberation Sans", "labelFontSize": 13, "labelFontWeight": "bold", "labelPadding": 2, "labelOverlap": false, "labelFlush": false, "labelExpr": "(datum.value < 0 ? '-' : '') + replace(format(abs(datum.value), '.1f'), '.', ',')", "title": null}},
      "y": {"field": "I", "type": "quantitative", "scale": {"domain": [-6.5, 3], "range": [448, 258], "nice": false, "zero": false},
            "axis": {"orient": "left", "offset": -362, "values": [-6, -4, -2, 0, 2], "tickSize": 4, "tickWidth": 1.2, "tickColor": "#333333", "domain": false, "labelFont": "Liberation Sans", "labelFontSize": 13, "labelFontWeight": "bold", "labelPadding": 2, "labelOverlap": false, "labelFlush": false, "labelExpr": "datum.value < 0 ? '-' + abs(datum.value) : '' + datum.value", "title": null}},
      "order": {"field": "o", "type": "quantitative"}
     }
    },
    {
     "data": {"name": "iB"},
     "mark": {"type": "point", "opacity": 0, "size": 1},
     "encoding": {
      "x": {"field": "E", "type": "quantitative", "axis": {"orient": "bottom", "offset": -29, "values": [-1.05, -0.75, -0.45, -0.15, 0.15, 0.45, 0.75], "tickSize": 2, "tickWidth": 1, "tickColor": "#333333", "domain": false, "labels": false, "title": null}},
      "y": {"field": "I", "type": "quantitative", "axis": {"orient": "left", "offset": -362, "values": [-5, -3, -1, 1], "tickSize": 2, "tickWidth": 1, "tickColor": "#333333", "domain": false, "labels": false, "title": null}}
     }
    }
   ],
   "resolve": {"axis": {"x": "independent", "y": "independent"}}
  }
 ],
 "resolve": {"scale": {"x": "independent", "y": "independent"}}
}
]
}
